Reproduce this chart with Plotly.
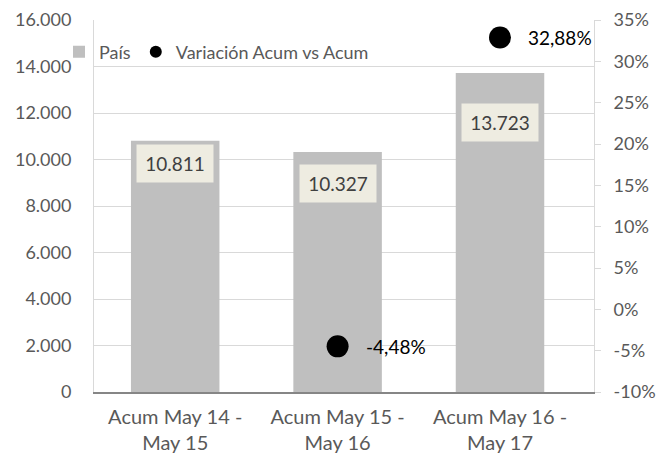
import plotly.graph_objects as go

# ---- data ----
categories = ["Acum May 14 -<br>May 15", "Acum May 15 -<br>May 16", "Acum May 16 -<br>May 17"]
pais_values = [10811, 10327, 13723]
variacion_pct = [None, -4.48, 32.88]
left_ticks = [0, 2000, 4000, 6000, 8000, 10000, 12000, 14000, 16000]
right_ticks = [-10, -5, 0, 5, 10, 15, 20, 25, 30, 35]

# ---- styles ----
FONT = "Lato, Carlito, Calibri, sans-serif"
BAR_COLOR = "#BFBFBF"
LABEL_BG = "#EEECE1"
AXIS_TXT = "#595959"
GRID = "#D9D9D9"
label_drop_px = [3, 12, 30]  # distance of each value box below its bar top

def fmt_thousands(v):
    return f"{v:,}".replace(",", ".")

def fmt_pct(v):
    return f"{v:.2f}".replace(".", ",") + "%"

fig = go.Figure()
fig.add_trace(go.Bar(
    x=categories, y=pais_values, name="País",
    marker=dict(color=BAR_COLOR, line=dict(width=0)),
    yaxis="y", hoverinfo="x+y",
))
fig.add_trace(go.Scatter(
    x=categories, y=variacion_pct, name="Variación Acum vs Acum",
    mode="markers", marker=dict(color="black", size=22, symbol="circle"),
    yaxis="y2",
))

annotations = []
for cat, v, drop in zip(categories, pais_values, label_drop_px):
    annotations.append(dict(
        x=cat, y=v, xref="x", yref="y", text=fmt_thousands(v),
        showarrow=False, yanchor="top", yshift=-drop,
        bgcolor=LABEL_BG, width=68, height=29, borderpad=4,
        font=dict(family=FONT, size=19, color="#404040"),
    ))
for cat, p in zip(categories, variacion_pct):
    if p is None:
        continue
    annotations.append(dict(
        x=cat, y=p, xref="x", yref="y2", text=fmt_pct(p),
        showarrow=False, xanchor="left", yanchor="middle", xshift=26,
        font=dict(family=FONT, size=19, color="black"),
    ))

fig.update_layout(
    width=657, height=454,
    margin=dict(l=94, r=63, t=20, b=62, autoexpand=False),
    paper_bgcolor="white", plot_bgcolor="white",
    separators=",.",
    font=dict(family=FONT, size=18, color=AXIS_TXT),
    bargap=0.455,
    showlegend=True,
    legend=dict(
        orientation="h", x=-0.07, xanchor="left", y=0.914, yanchor="middle",
        bgcolor="rgba(0,0,0,0)", font=dict(family=FONT, size=18, color=AXIS_TXT),
        itemsizing="constant", itemwidth=30, tracegroupgap=0,
    ),
    xaxis=dict(
        showline=True, linecolor="#868686", linewidth=2,
        showgrid=False, ticks="", tickfont=dict(size=20, color=AXIS_TXT),
        ticklabelstandoff=6, automargin=False,
    ),
    yaxis=dict(
        range=[0, 16000], tickvals=left_ticks,
        ticktext=[fmt_thousands(t) for t in left_ticks],
        showgrid=True, gridcolor=GRID, gridwidth=1,
        showline=True, linecolor=GRID, linewidth=1,
        ticks="", ticklabelstandoff=18, zeroline=False,
        tickfont=dict(size=18, color=AXIS_TXT), automargin=False,
    ),
    yaxis2=dict(
        range=[-10, 35], overlaying="y", side="right",
        tickvals=right_ticks, ticktext=[f"{t}%" for t in right_ticks],
        showgrid=False, zeroline=False,
        showline=True, linecolor=GRID, linewidth=1,
        ticks="outside", ticklen=6, tickcolor=GRID,
        ticklabelstandoff=9, automargin=False,
        tickfont=dict(size=18, color=AXIS_TXT),
    ),
    annotations=annotations,
)

fig.write_html("out.html", config={"displayModeBar": False},
               post_script="document.body.style.margin='0';")
